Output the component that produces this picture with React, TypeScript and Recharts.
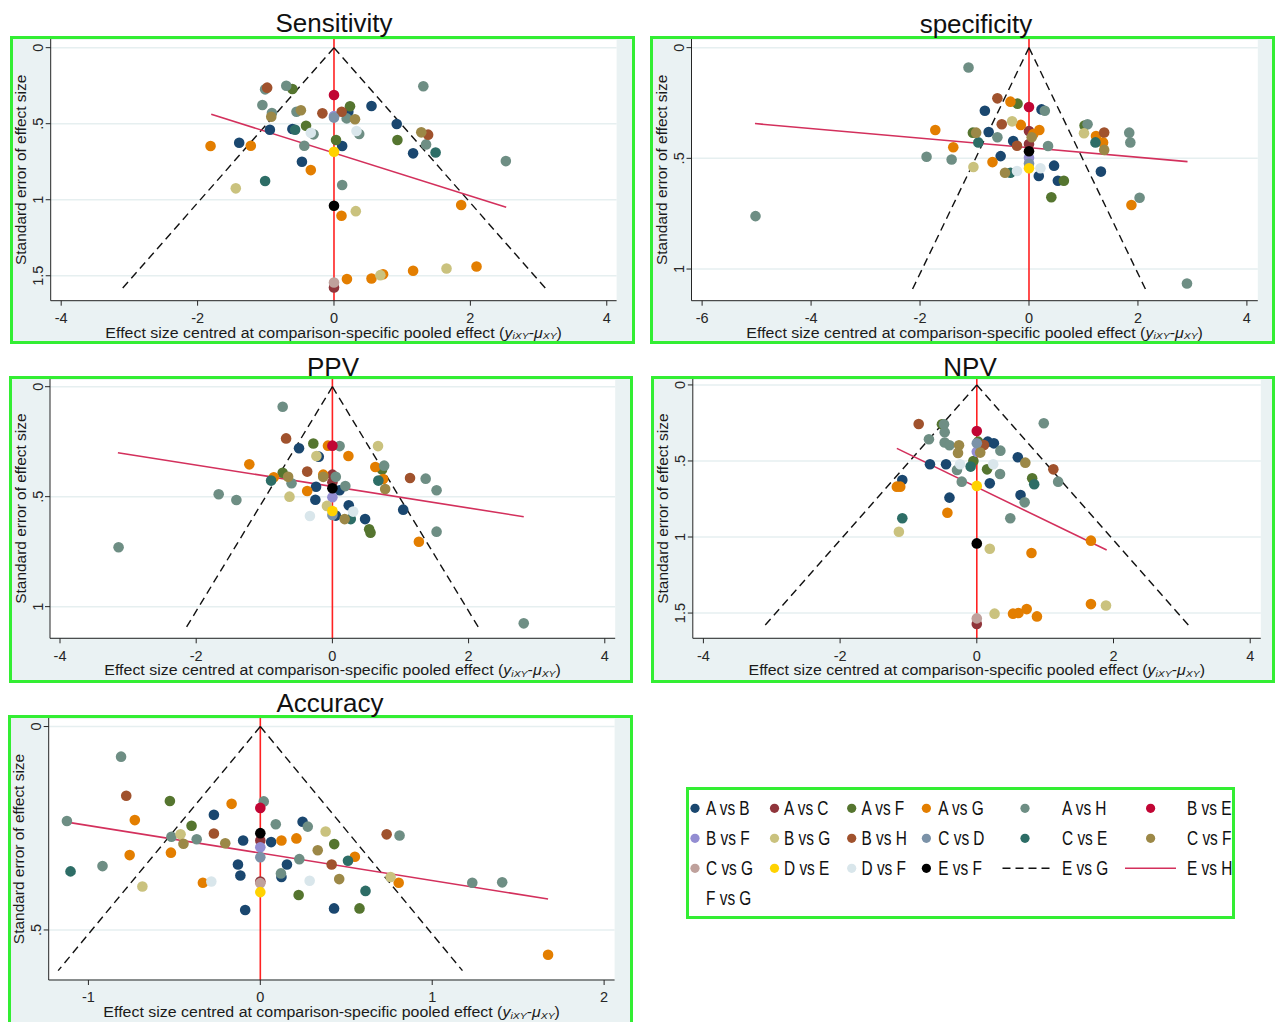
import React from 'react';
import { ComposedChart, XAxis, YAxis, CartesianGrid, Scatter, ReferenceLine } from 'recharts';

// ---------------- data ----------------
type P = [string, number, number]; // [comparison, centred effect, standard error]

const groups = ['A vs B', 'A vs C', 'A vs F', 'A vs G', 'A vs H', 'B vs E', 'B vs F', 'B vs G', 'B vs H', 'C vs D', 'C vs E', 'C vs F', 'C vs G', 'D vs E', 'D vs F', 'E vs F'];
const groupColors = ['#1a476f', '#90353b', '#55752f', '#e37e00', '#6e8e84', '#c10534', '#938dd2', '#cac27e', '#a0522d', '#7b92a8', '#2d6d66', '#9c8847', '#bfa19c', '#ffd200', '#d9e6eb', '#000000'];

const sensitivityPoints: P[] = [
  ['A vs B', 0.21, 0.421], ['A vs B', 0.55, 0.384], ['A vs B', -0.94, 0.54], ['A vs B', -0.61, 0.535], ['A vs B', 0.92, 0.502], ['A vs B', 1.16, 0.695], ['A vs B', -1.39, 0.625], ['A vs B', 0.12, 0.647], ['A vs B', -0.47, 0.75],
  ['A vs C', 0, 1.577],
  ['A vs F', -0.61, 0.272], ['A vs F', 0.235, 0.385], ['A vs F', -0.41, 0.513], ['A vs F', 0.93, 0.607], ['A vs F', 0.03, 0.607],
  ['A vs G', -1.81, 0.647], ['A vs G', -1.22, 0.645], ['A vs G', -0.34, 0.805], ['A vs G', 0.11, 1.105], ['A vs G', 1.865, 1.035], ['A vs G', 0.19, 1.522], ['A vs G', 0.55, 1.518], ['A vs G', 0.72, 1.49], ['A vs G', 1.16, 1.467], ['A vs G', 2.09, 1.439],
  ['A vs H', -1.01, 0.274], ['A vs H', -0.7, 0.25], ['A vs H', 1.31, 0.254], ['A vs H', -1.05, 0.377], ['A vs H', -0.91, 0.43], ['A vs H', -0.55, 0.421], ['A vs H', 0.186, 0.465], ['A vs H', -0.3, 0.57], ['A vs H', 0.37, 0.568], ['A vs H', 1.35, 0.636], ['A vs H', 2.52, 0.746], ['A vs H', -0.435, 0.645], ['A vs H', 0.12, 0.903],
  ['B vs E', 0, 0.311],
  ['B vs F', 0, 0.45],
  ['B vs G', -1.44, 0.925], ['B vs G', 0.32, 1.075], ['B vs G', 0.68, 1.496], ['B vs G', 1.65, 1.452],
  ['B vs H', -0.98, 0.263], ['B vs H', -0.17, 0.432], ['B vs H', 0.113, 0.421], ['B vs H', 1.38, 0.572],
  ['C vs D', 0, 0.46],
  ['C vs E', -0.57, 0.54], ['C vs E', 1.49, 0.689], ['C vs E', -1.01, 0.877],
  ['C vs F', -0.92, 0.454], ['C vs F', -0.485, 0.412], ['C vs F', 0.308, 0.471], ['C vs F', 1.28, 0.557],
  ['C vs G', 0, 1.544],
  ['D vs E', 0, 0.684],
  ['D vs F', -0.34, 0.56], ['D vs F', 0.33, 0.548],
  ['E vs F', 0, 1.04],
];

const specificityPoints: P[] = [
  ['A vs B', -0.81, 0.285], ['A vs B', 0.23, 0.279], ['A vs B', -0.74, 0.381], ['A vs B', -0.29, 0.422], ['A vs B', -0.52, 0.49], ['A vs B', 0.18, 0.58], ['A vs B', 0.46, 0.533], ['A vs B', 1.32, 0.56], ['A vs B', 0.53, 0.601],
  ['A vs C', 0, 0.377], ['A vs C', 0, 0.435],
  ['A vs F', -0.21, 0.253], ['A vs F', -1.03, 0.384], ['A vs F', 1.02, 0.352], ['A vs F', 0.64, 0.601], ['A vs F', 0.41, 0.676],
  ['A vs G', -0.34, 0.244], ['A vs G', -0.15, 0.349], ['A vs G', -1.72, 0.372], ['A vs G', 0.19, 0.372], ['A vs G', 0.08, 0.39], ['A vs G', 1.23, 0.399], ['A vs G', 1.36, 0.428], ['A vs G', -1.39, 0.45], ['A vs G', -0.67, 0.517], ['A vs G', 1.88, 0.711],
  ['A vs H', -1.11, 0.09], ['A vs H', 0.29, 0.285], ['A vs H', -0.58, 0.405], ['A vs H', 0.35, 0.444], ['A vs H', 1.075, 0.346], ['A vs H', 1.84, 0.384], ['A vs H', 1.86, 0.428], ['A vs H', -1.88, 0.493], ['A vs H', -1.42, 0.505], ['A vs H', 2.03, 0.678], ['A vs H', -5.02, 0.761], ['A vs H', 2.9, 1.065],
  ['B vs E', 0, 0.268],
  ['B vs F', 0, 0.497],
  ['B vs G', -0.31, 0.333], ['B vs G', 1.01, 0.387], ['B vs G', -1.02, 0.539],
  ['B vs H', -0.58, 0.229], ['B vs H', -0.5, 0.346], ['B vs H', -0.22, 0.443], ['B vs H', 1.38, 0.383],
  ['C vs D', 0, 0.523],
  ['C vs E', -0.93, 0.428], ['C vs E', 1.22, 0.428], ['C vs E', -0.34, 0.565],
  ['C vs F', -0.97, 0.384], ['C vs F', 0.05, 0.405], ['C vs F', 1.38, 0.462], ['C vs F', -0.44, 0.565],
  ['D vs E', 0, 0.545],
  ['D vs F', -0.22, 0.557], ['D vs F', 0.21, 0.545],
  ['E vs F', 0, 0.468],
];

const ppvPoints: P[] = [
  ['A vs B', -0.49, 0.28], ['A vs B', -0.2, 0.318], ['A vs B', -0.24, 0.455], ['A vs B', 0.106, 0.471], ['A vs B', -0.25, 0.514], ['A vs B', 0.24, 0.539], ['A vs B', 0.05, 0.586], ['A vs B', 0.48, 0.602], ['A vs B', 1.04, 0.559],
  ['A vs C', 0, 0.4], ['A vs C', 0, 0.435],
  ['A vs F', -0.28, 0.258], ['A vs F', 0.73, 0.376], ['A vs F', -0.73, 0.391], ['A vs F', 0.54, 0.648], ['A vs F', 0.56, 0.664],
  ['A vs G', -0.065, 0.268], ['A vs G', 0.235, 0.315], ['A vs G', -1.22, 0.353], ['A vs G', 0.63, 0.365], ['A vs G', -0.86, 0.412], ['A vs G', -0.135, 0.4], ['A vs G', 0.745, 0.42], ['A vs G', -0.37, 0.474], ['A vs G', 1.27, 0.705],
  ['A vs H', -0.73, 0.091], ['A vs H', 0.106, 0.27], ['A vs H', 0.76, 0.359], ['A vs H', -0.6, 0.439], ['A vs H', 0.05, 0.41], ['A vs H', 0.19, 0.452], ['A vs H', 1.37, 0.418], ['A vs H', 1.53, 0.471], ['A vs H', -1.67, 0.489], ['A vs H', -1.41, 0.515], ['A vs H', 1.53, 0.659], ['A vs H', -3.14, 0.73], ['A vs H', 2.81, 1.076],
  ['B vs E', 0, 0.268],
  ['B vs F', 0, 0.503],
  ['B vs G', 0.67, 0.27], ['B vs G', -0.235, 0.315], ['B vs G', -0.63, 0.5], ['B vs G', -0.08, 0.542],
  ['B vs H', -0.68, 0.235], ['B vs H', -0.37, 0.386], ['B vs H', 1.14, 0.415],
  ['C vs D', 0, 0.583],
  ['C vs E', -0.9, 0.427], ['C vs E', 0.675, 0.427], ['C vs E', 0.27, 0.602],
  ['C vs F', -0.65, 0.41], ['C vs F', -0.135, 0.41], ['C vs F', 0.775, 0.465], ['C vs F', 0.18, 0.602],
  ['D vs E', 0, 0.565],
  ['D vs F', 0.305, 0.568], ['D vs F', -0.33, 0.588],
  ['E vs F', 0, 0.462],
];

const npvPoints: P[] = [
  ['A vs B', 0.16, 0.373], ['A vs B', 0.25, 0.384], ['A vs B', 0.6, 0.476], ['A vs B', -0.685, 0.522], ['A vs B', -0.45, 0.522], ['A vs B', -1.09, 0.625], ['A vs B', 0.19, 0.647], ['A vs B', 0.64, 0.724], ['A vs B', -0.4, 0.741],
  ['A vs C', 0, 1.572],
  ['A vs F', -0.51, 0.259], ['A vs F', 0.02, 0.373], ['A vs F', 0.81, 0.614], ['A vs F', -0.05, 0.5], ['A vs F', 0.15, 0.555],
  ['A vs G', -1.17, 0.669], ['A vs G', -1.12, 0.669], ['A vs G', -0.43, 0.84], ['A vs G', 1.67, 1.024], ['A vs G', 0.8, 1.105], ['A vs G', 1.67, 1.441], ['A vs G', 0.53, 1.504], ['A vs G', 0.61, 1.5], ['A vs G', 0.73, 1.474], ['A vs G', 0.88, 1.522],
  ['A vs H', -0.48, 0.259], ['A vs H', -0.47, 0.311], ['A vs H', 0.98, 0.252], ['A vs H', -0.7, 0.357], ['A vs H', -0.47, 0.379], ['A vs H', -0.4, 0.397], ['A vs H', 0.345, 0.432], ['A vs H', 1.19, 0.636], ['A vs H', -0.29, 0.559], ['A vs H', 0.34, 0.586], ['A vs H', -0.22, 0.636], ['A vs H', 0.7, 0.772], ['A vs H', 0.49, 0.877],
  ['B vs E', 0, 0.303],
  ['B vs F', 0, 0.439],
  ['B vs G', -1.14, 0.965], ['B vs G', 0.19, 1.077], ['B vs G', 1.89, 1.45], ['B vs G', 0.26, 1.504],
  ['B vs H', -0.85, 0.257], ['B vs H', 0.105, 0.395], ['B vs H', 1.12, 0.555],
  ['C vs D', 0, 0.384],
  ['C vs E', 0.84, 0.653], ['C vs E', -0.09, 0.537], ['C vs E', -1.09, 0.877],
  ['C vs F', -0.26, 0.397], ['C vs F', -0.275, 0.447], ['C vs F', 0.05, 0.445], ['C vs F', 0.71, 0.511],
  ['C vs G', 0, 1.535],
  ['D vs E', 0, 0.664],
  ['D vs F', -0.245, 0.522], ['D vs F', 0.24, 0.522],
  ['E vs F', 0, 1.042],
];

const accuracyPoints: P[] = [
  ['A vs B', -0.27, 0.217], ['A vs B', 0.246, 0.234], ['A vs B', -0.1, 0.28], ['A vs B', 0.063, 0.284], ['A vs B', -0.13, 0.339], ['A vs B', 0.155, 0.339], ['A vs B', -0.116, 0.366], ['A vs B', 0.123, 0.37], ['A vs B', -0.088, 0.451], ['A vs B', 0.429, 0.447],
  ['A vs C', 0, 0.28], ['A vs C', 0, 0.381],
  ['A vs F', -0.526, 0.183], ['A vs F', -0.4, 0.244], ['A vs F', 0.43, 0.289], ['A vs F', 0.223, 0.414], ['A vs F', 0.577, 0.447],
  ['A vs G', -0.167, 0.19], ['A vs G', -0.73, 0.23], ['A vs G', 0.123, 0.28], ['A vs G', 0.21, 0.275], ['A vs G', -0.76, 0.316], ['A vs G', -0.52, 0.31], ['A vs G', 0.55, 0.32], ['A vs G', -0.334, 0.384], ['A vs G', 0.805, 0.384], ['A vs G', 1.674, 0.561],
  ['A vs H', -0.81, 0.074], ['A vs H', 0.02, 0.184], ['A vs H', -1.125, 0.232], ['A vs H', 0.276, 0.246], ['A vs H', 0.09, 0.24], ['A vs H', -0.517, 0.271], ['A vs H', -0.37, 0.277], ['A vs H', 0.81, 0.268], ['A vs H', 0.227, 0.326], ['A vs H', -0.918, 0.343], ['A vs H', 0.12, 0.361], ['A vs H', 1.233, 0.384], ['A vs H', 1.407, 0.383],
  ['B vs E', 0, 0.2],
  ['B vs F', 0, 0.297],
  ['B vs G', 0.38, 0.258], ['B vs G', -0.464, 0.265], ['B vs G', -0.686, 0.393], ['B vs G', 0.758, 0.37],
  ['B vs H', -0.78, 0.17], ['B vs H', -0.27, 0.263], ['B vs H', 0.735, 0.265], ['B vs H', 0.415, 0.339],
  ['C vs D', 0, 0.321],
  ['C vs E', 0.51, 0.33], ['C vs E', -1.104, 0.356], ['C vs E', 0.612, 0.404],
  ['C vs F', -0.447, 0.288], ['C vs F', -0.204, 0.287], ['C vs F', 0.334, 0.304], ['C vs F', 0.459, 0.375],
  ['C vs G', 0, 0.385],
  ['D vs E', 0, 0.407],
  ['D vs F', -0.285, 0.381], ['D vs F', 0.287, 0.379],
  ['E vs F', 0, 0.262],
];

const panelTitles = ['Sensitivity', 'specificity', 'PPV', 'NPV', 'Accuracy'];
const xTickSets = [[-4, -2, 0, 2, 4], [-6, -4, -2, 0, 2, 4], [-4, -2, 0, 2, 4], [-4, -2, 0, 2, 4], [-1, 0, 1, 2]];
const yTickSets = [[0, 0.5, 1, 1.5], [0, 0.5, 1], [0, 0.5, 1], [0, 0.5, 1, 1.5], [0, 0.5]];
const xDomains: [number, number][] = [[-4.154, 4.144], [-6.195, 4.2], [-4.147, 4.153], [-4.155, 4.155], [-1.231, 2.061]];
const yDomains: [number, number][] = [[-0.057, 1.664], [-0.039, 1.143], [-0.035, 1.144], [-0.039, 1.666], [-0.021, 0.623]];
const funnelSeMax = [1.6, 1.1, 1.1, 1.6, 0.6];
const regressionLines: [number, number][][] = [
  [[-1.8, 0.438], [2.525, 1.05]],
  [[-5.03, 0.343], [2.91, 0.515]],
  [[-3.15, 0.3], [2.81, 0.591]],
  [[-1.17, 0.417], [1.9, 1.086]],
  [[-1.125, 0.235], [1.674, 0.424]],
];
const panelPoints = [sensitivityPoints, specificityPoints, ppvPoints, npvPoints, accuracyPoints];

const legendRows = [
  ['A vs B', 'A vs C', 'A vs F', 'A vs G', 'A vs H', 'B vs E'],
  ['B vs F', 'B vs G', 'B vs H', 'C vs D', 'C vs E', 'C vs F'],
  ['C vs G', 'D vs E', 'D vs F', 'E vs F', 'E vs G', 'E vs H'],
  ['F vs G'],
];

// ---------------- layout & style ----------------
const FONT = "'Liberation Sans', Arial, Helvetica, sans-serif";
const GREEN = '#33ee33';
const PANEL_BG = '#eaf2f3';
const GRID = '#e6eff0';
const AXIS = '#262626';
const ZERO_RED = '#ff2222';
const REG_RED = '#d3305c';

// frame: [left, top, width, height]; plot: [left, top, right, bottom] in page px
const frames = [[10, 36, 625, 308], [650, 36, 625, 308], [9, 376, 624, 307], [651, 376, 624, 307], [8, 715, 625, 310]];
const plots = [[50.7, 39, 616.6, 300.7], [691.5, 39, 1257.8, 300.7], [50, 379, 615.2, 638.3], [692.8, 379, 1260.8, 638.3], [48.7, 718, 614.6, 980]];
const titlePos = [[334, 32], [976, 33], [333, 376], [970, 376], [330, 712]];

const fmtY = (v: number) => (v === 0 ? '0' : v < 1 ? String(v).replace(/^0/, '') : String(v));

const XTick = (props: any) => (
  <text x={props.x} y={props.y + 17.3} textAnchor="middle" fontSize={14.5} fill={AXIS} fontFamily={FONT}>
    {String(props.payload.value)}
  </text>
);

const YTick = (props: any) => (
  <text transform={`translate(${props.x - 2.5},${props.y}) rotate(-90)`} textAnchor="middle" fontSize={14.5} fill={AXIS} fontFamily={FONT}>
    {fmtY(props.payload.value)}
  </text>
);

const XTitle = ({ midX, baseY }: any) => (
  <text transform={`translate(${midX},${baseY}) scale(1.1,1)`} x={0} y={0} textAnchor="middle" fontSize={14.5} fill="#1a1a1a" fontFamily={FONT}>
    Effect size centred at comparison-specific pooled effect (
    <tspan fontStyle="italic">y</tspan>
    <tspan fontSize={9.5} fontStyle="italic" dy={1.5}>iXY</tspan>
    <tspan dy={-1.5}>-</tspan>
    <tspan fontStyle="italic">μ</tspan>
    <tspan fontSize={9.5} fontStyle="italic" dy={1.5}>XY</tspan>
    <tspan dy={-1.5}>)</tspan>
  </text>
);

const YTitle = ({ baseX, midY }: any) => (
  <text transform={`translate(${baseX},${midY}) rotate(-90) scale(1.03,1)`} textAnchor="middle" fontSize={15} fill="#1a1a1a" fontFamily={FONT}>
    Standard error of effect size
  </text>
);

function FunnelPanel({ idx }: { idx: number }) {
  const [fl, ft, fw, fh] = frames[idx];
  const [pl, pt, pr, pb] = plots[idx];
  const B = 3;
  const ix = fl + B, iy = ft + B, iw = fw - 2 * B, ih = fh - 2 * B;
  const YW = 30, XH = 40;
  const margin = { left: pl - ix - YW, top: pt - iy, right: ix + iw - pr, bottom: iy + ih - pb - XH };
  const plotW = pr - pl, plotH = pb - pt;
  const se = funnelSeMax[idx];
  const reg = regressionLines[idx];
  const pts = panelPoints[idx];
  return (
    <div style={{ position: 'absolute', left: fl, top: ft, width: fw, height: fh, border: `${B}px solid ${GREEN}`, boxSizing: 'border-box', background: PANEL_BG, overflow: 'hidden' }}>
      <ComposedChart width={iw} height={ih} margin={margin}>
        <CartesianGrid vertical={false} stroke={GRID} strokeWidth={1.5} fill="#ffffff" />
        <XAxis
          type="number" dataKey="x" domain={xDomains[idx]} ticks={xTickSets[idx]} allowDataOverflow interval={0}
          height={XH} tickSize={5} tickMargin={0} tick={<XTick />}
          axisLine={{ stroke: AXIS }} tickLine={{ stroke: AXIS }}
          label={<XTitle midX={pl - ix + plotW / 2} baseY={pb - iy + 37} />}
        />
        <YAxis
          type="number" dataKey="y" domain={yDomains[idx]} ticks={yTickSets[idx]} reversed allowDataOverflow interval={0}
          width={YW} tickSize={5} tickMargin={0} tick={<YTick />}
          axisLine={{ stroke: AXIS }} tickLine={{ stroke: AXIS }}
          label={<YTitle baseX={pl - ix - 24.5} midY={pt - iy + plotH / 2} />}
        />
        <ReferenceLine x={0} stroke={ZERO_RED} strokeWidth={1.6} />
        {groups.map((g, gi) => {
          const data = pts.filter((p) => p[0] === g).map((p) => ({ x: p[1], y: p[2] }));
          if (!data.length) return null;
          const color = groupColors[gi];
          return (
            <Scatter
              key={g}
              name={g}
              data={data}
              fill={color}
              isAnimationActive={false}
              shape={(p: any) => <circle cx={p.cx} cy={p.cy} r={5.3} fill={color} />}
            />
          );
        })}
        <ReferenceLine segment={[{ x: 0, y: 0 }, { x: -1.96 * se, y: se }]} stroke="#111" strokeWidth={1.4} strokeDasharray="8 5" />
        <ReferenceLine segment={[{ x: 0, y: 0 }, { x: 1.96 * se, y: se }]} stroke="#111" strokeWidth={1.4} strokeDasharray="8 5" />
        <ReferenceLine segment={[{ x: reg[0][0], y: reg[0][1] }, { x: reg[1][0], y: reg[1][1] }]} stroke={REG_RED} strokeWidth={1.6} />
      </ComposedChart>
    </div>
  );
}

function LegendBox() {
  const symX = [6, 85.5, 162.7, 237.4, 336, 461.6];
  const textX = [17, 95, 172.5, 249.3, 373, 498];
  const lineSpan = [[313.5, 362.7], [436, 487]];
  const rowCy = [18.3, 48.3, 78.3, 108.3];
  return (
    <div style={{ position: 'absolute', left: 686, top: 787, width: 549, height: 132, border: `3px solid ${GREEN}`, boxSizing: 'border-box', background: '#fff' }}>
      <svg width={543} height={126} style={{ display: 'block' }}>
        {legendRows.map((row, ri) =>
          row.map((label, ci) => {
            const gi = groups.indexOf(label);
            const cy = rowCy[ri];
            let sym: any = null;
            if (gi >= 0) sym = <circle cx={symX[ci]} cy={cy} r={4.6} fill={groupColors[gi]} />;
            else if (label === 'E vs G') sym = <line x1={lineSpan[0][0]} x2={lineSpan[0][1]} y1={cy} y2={cy} stroke="#111" strokeWidth={1.4} strokeDasharray="8 5" />;
            else if (label === 'E vs H') sym = <line x1={lineSpan[1][0]} x2={lineSpan[1][1]} y1={cy} y2={cy} stroke={REG_RED} strokeWidth={1.6} />;
            return (
              <g key={label}>
                {sym}
                <text transform={`translate(${textX[ci]},${cy + 7}) scale(0.79,1)`} fontSize={19.5} fill="#111" fontFamily={FONT}>
                  {label}
                </text>
              </g>
            );
          })
        )}
      </svg>
    </div>
  );
}

export default function App() {
  return (
    <div style={{ position: 'fixed', left: 0, top: 0, width: 1275, height: 1022, background: '#fff', overflow: 'hidden', fontFamily: FONT }}>
      {panelTitles.map((_, i) => (
        <FunnelPanel key={i} idx={i} />
      ))}
      <LegendBox />
      <svg width={1275} height={1022} style={{ position: 'absolute', left: 0, top: 0, pointerEvents: 'none' }}>
        {panelTitles.map((t, i) => (
          <text key={t} x={titlePos[i][0]} y={titlePos[i][1]} textAnchor="middle" fontSize={26} fill="#111" fontFamily={FONT}>
            {t}
          </text>
        ))}
      </svg>
    </div>
  );
}
